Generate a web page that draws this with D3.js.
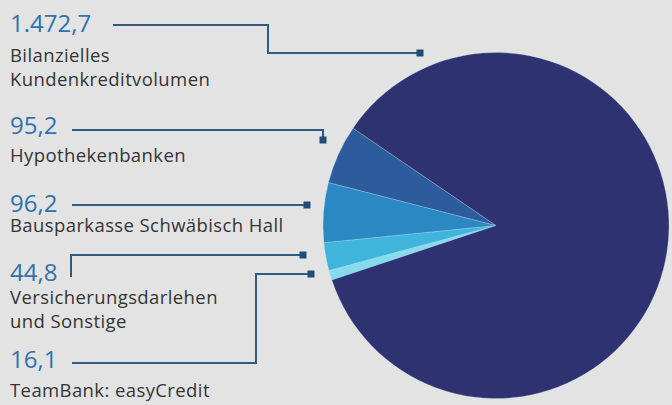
<!DOCTYPE html>
<html>
<head>
<meta charset="utf-8">
<script src="https://cdn.jsdelivr.net/npm/d3@7"></script>
<style>
  html, body { margin: 0; padding: 0; background: #e3e3e3; }
  svg { display: block; }
</style>
</head>
<body>
<div id="chart"></div>
<script>
// slices, drawn clockwise starting at the lower left
const categories = ["TeamBank: easyCredit", "Versicherungsdarlehen und Sonstige", "Bausparkasse Schwäbisch Hall", "Hypothekenbanken", "Bilanzielles Kundenkreditvolumen"];
const values = [16.1, 44.8, 96.2, 95.2, 1472.7];
const valueLabels = ["16,1", "44,8", "96,2", "95,2", "1.472,7"];
const colors = ["#86dbee", "#40b4db", "#2c88c2", "#2d5c9c", "#2e3270"];

// callout layout, one entry per category (same order)
const callouts = [
  { num: [10, 368], lines: [[10, 397]], path: [[72, 363], [256, 363], [256, 274], [311, 274]] },
  { num: [10, 281], lines: [[10, 304], [10, 328]], path: [[71, 277], [71, 255], [303, 255]] },
  { num: [10, 212], lines: [[10, 232]], path: [[72, 205], [307, 205]] },
  { num: [10, 134], lines: [[10, 162]], path: [[72, 130], [323, 130], [323, 140]] },
  { num: [10, 32], lines: [[10, 62], [10, 86]], path: [[113, 25], [268, 25], [268, 53], [420, 53]] }
];
const labelLines = [
  ["TeamBank: easyCredit"],
  ["Versicherungsdarlehen", "und Sonstige"],
  ["Bausparkasse Schwäbisch Hall"],
  ["Hypothekenbanken"],
  ["Bilanzielles", "Kundenkreditvolumen"]
];

const width = 672;
const height = 405;
const cx = 496;
const cy = 225.5;
const radius = 173;

const svg = d3
  .select("#chart")
  .append("svg")
  .attr("width", width)
  .attr("height", height);

svg.append("rect").attr("width", width).attr("height", height).attr("fill", "#e3e3e3");

const pie = d3
  .pie()
  .sort(null)
  .value((d) => d)
  .startAngle((251.6 * Math.PI) / 180)
  .endAngle((251.6 * Math.PI) / 180 + 2 * Math.PI);

const arc = d3.arc().innerRadius(0).outerRadius(radius);

svg
  .append("g")
  .attr("transform", `translate(${cx},${cy})`)
  .selectAll("path")
  .data(pie(values))
  .enter()
  .append("path")
  .attr("d", arc)
  .attr("fill", (d, i) => colors[i])
  .attr("stroke", "rgba(190,235,250,0.35)")
  .attr("stroke-width", 0.8);

const line = d3.line();

const g = svg.selectAll(".callout").data(callouts).enter().append("g").attr("class", "callout");

g.append("path")
  .attr("d", (d) => line(d.path))
  .attr("fill", "none")
  .attr("stroke", "#2f5c80")
  .attr("stroke-width", 2);

g.append("rect")
  .attr("x", (d) => d.path[d.path.length - 1][0] - 3.5)
  .attr("y", (d) => d.path[d.path.length - 1][1] - 3.5)
  .attr("width", 7)
  .attr("height", 7)
  .attr("fill", "#1f4d78");

g.append("text")
  .attr("x", (d) => d.num[0])
  .attr("y", (d) => d.num[1])
  .attr("fill", "#2f72ad")
  .style("font-family", "'Open Sans', sans-serif")
  .style("font-size", "24px")
  .text((d, i) => valueLabels[i]);

g.each(function (d, i) {
  const sel = d3.select(this);
  labelLines[i].forEach((t, j) => {
    sel
      .append("text")
      .attr("x", d.lines[j][0])
      .attr("y", d.lines[j][1])
      .attr("fill", "#353535")
      .style("font-family", "'Open Sans', sans-serif")
      .style("font-size", "18.5px")
      .style("letter-spacing", "0.4px")
      .text(t);
  });
});
</script>
</body>
</html>
